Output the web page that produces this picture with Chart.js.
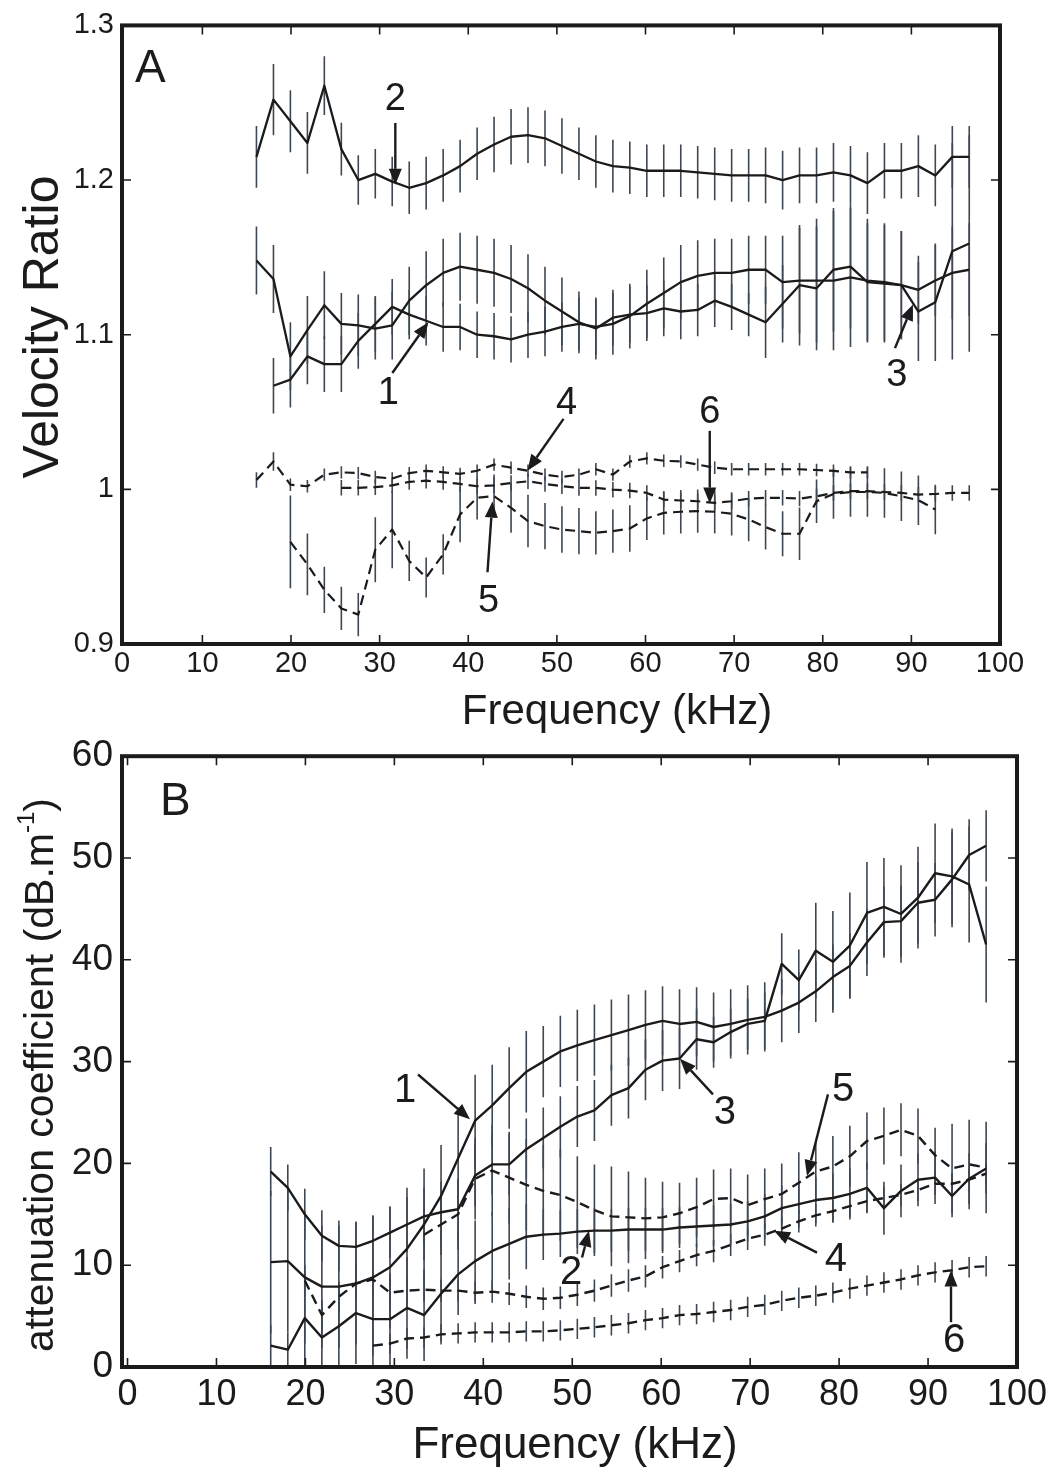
<!DOCTYPE html>
<html>
<head>
<meta charset="utf-8">
<script src="https://cdn.jsdelivr.net/npm/chart.js@4.4.1/dist/chart.umd.min.js"></script>
<style>
html,body{margin:0;padding:0;background:#fff;}
#wrap{position:relative;width:1054px;height:1472px;overflow:hidden;}
canvas{position:absolute;left:0;}
#cA{top:0;width:1054px;height:745px;}
#cB{top:725px;width:1054px;height:747px;}
</style>
</head>
<body>
<div id="wrap">
<canvas id="cA" width="1054" height="745"></canvas>
<canvas id="cB" width="1054" height="747"></canvas>
</div>
<script>
// ---------------- DATA ----------------
const freqs = [16.10, 18.02, 19.93, 21.85, 23.76, 25.68, 27.59, 29.51, 31.42, 33.34, 35.25, 37.17, 39.08, 41.00, 42.91, 44.83, 46.74, 48.66, 50.57, 52.49, 54.40, 56.32, 58.23, 60.15, 62.06, 63.98, 65.89, 67.81, 69.72, 71.64, 73.55, 75.47, 77.38, 79.30, 81.21, 83.13, 85.04, 86.96, 88.87, 90.79, 92.70, 94.62, 96.53];

const freqTickValues = [0, 10, 20, 30, 40, 50, 60, 70, 80, 90, 100];
const freqTickLabels = ['0', '10', '20', '30', '40', '50', '60', '70', '80', '90', '100'];
const velTickValues = [0.9, 1.0, 1.1, 1.2, 1.3];
const velTickLabels = ['0.9', '1', '1.1', '1.2', '1.3'];
const attTickValues = [0, 10, 20, 30, 40, 50, 60];
const attTickLabels = ['0', '10', '20', '30', '40', '50', '60'];
const seriesNames = ['1', '2', '3', '4', '5', '6'];

// Panel A : velocity ratio
const vel1 = [null, 1.067, 1.071, 1.086, 1.081, 1.081, 1.096, 1.107, 1.118, 1.113, 1.109, 1.105, 1.105, 1.100, 1.099, 1.097, 1.100, 1.102, 1.105, 1.107, 1.105, 1.107, 1.112, 1.120, 1.127, 1.134, 1.138, 1.140, 1.140, 1.142, 1.142, 1.134, 1.135, 1.135, 1.135, 1.137, 1.135, 1.134, 1.132, 1.129, 1.135, 1.140, 1.142];
const vel1Err = [null, 0.018, 0.018, 0.018, 0.018, 0.018, 0.018, 0.018, 0.018, 0.016, 0.016, 0.016, 0.015, 0.015, 0.015, 0.015, 0.015, 0.016, 0.016, 0.017, 0.018, 0.020, 0.021, 0.022, 0.023, 0.024, 0.023, 0.022, 0.022, 0.022, 0.022, 0.030, 0.034, 0.040, 0.045, 0.045, 0.040, 0.038, 0.035, 0.022, 0.023, 0.030, 0.030];
const vel2 = [1.215, 1.252, 1.238, 1.224, 1.261, 1.220, 1.200, 1.204, 1.199, 1.195, 1.198, 1.203, 1.209, 1.217, 1.223, 1.228, 1.229, 1.227, 1.222, 1.217, 1.212, 1.209, 1.208, 1.206, 1.206, 1.206, 1.205, 1.204, 1.203, 1.203, 1.203, 1.200, 1.203, 1.203, 1.205, 1.203, 1.198, 1.206, 1.206, 1.209, 1.203, 1.215, 1.215];
const vel2Err = [0.020, 0.023, 0.020, 0.020, 0.019, 0.017, 0.016, 0.016, 0.016, 0.017, 0.017, 0.017, 0.017, 0.017, 0.018, 0.018, 0.018, 0.018, 0.018, 0.017, 0.017, 0.017, 0.017, 0.017, 0.017, 0.017, 0.017, 0.017, 0.017, 0.017, 0.018, 0.019, 0.018, 0.018, 0.019, 0.019, 0.020, 0.018, 0.018, 0.020, 0.020, 0.020, 0.020];
const vel3 = [1.148, 1.136, 1.086, 1.103, 1.119, 1.107, 1.106, 1.104, 1.106, 1.122, 1.132, 1.140, 1.144, 1.142, 1.140, 1.136, 1.130, 1.122, 1.115, 1.108, 1.104, 1.111, 1.113, 1.114, 1.117, 1.115, 1.116, 1.122, 1.118, 1.113, 1.108, 1.120, 1.132, 1.130, 1.142, 1.144, 1.134, 1.133, 1.132, 1.115, 1.121, 1.154, 1.159];
const vel3Err = [0.022, 0.022, 0.022, 0.022, 0.022, 0.020, 0.020, 0.020, 0.022, 0.022, 0.022, 0.022, 0.022, 0.022, 0.022, 0.022, 0.022, 0.022, 0.022, 0.020, 0.020, 0.018, 0.018, 0.018, 0.018, 0.018, 0.017, 0.017, 0.015, 0.014, 0.023, 0.025, 0.039, 0.040, 0.040, 0.040, 0.038, 0.038, 0.035, 0.032, 0.038, 0.070, 0.070];
const vel4 = [1.006, 1.018, 1.003, 1.002, 1.0095, 1.011, 1.0105, 1.008, 1.007, 1.0105, 1.012, 1.011, 1.010, 1.012, 1.016, 1.014, 1.012, 1.0095, 1.008, 1.0095, 1.013, 1.0095, 1.018, 1.020, 1.0185, 1.018, 1.016, 1.014, 1.013, 1.013, 1.013, 1.013, 1.013, 1.0125, 1.012, 1.011, 1.011, null, null, null, null, null, null];
const vel4Err = [0.005, 0.006, 0.004, 0.004, 0.004, 0.004, 0.004, 0.004, 0.004, 0.004, 0.004, 0.004, 0.004, 0.004, 0.004, 0.004, 0.004, 0.004, 0.004, 0.004, 0.004, 0.004, 0.004, 0.004, 0.004, 0.004, 0.004, 0.004, 0.004, 0.004, 0.004, 0.004, 0.004, 0.004, 0.004, 0.004, 0.004, null, null, null, null, null, null];
const vel5 = [null, null, 0.966, 0.9515, 0.935, 0.923, 0.919, 0.961, 0.974, 0.9537, 0.943, 0.958, 0.9838, 0.9945, 0.9956, 0.988, 0.9795, 0.9762, 0.974, 0.973, 0.9719, 0.973, 0.9747, 0.9812, 0.9848, 0.9855, 0.9859, 0.9855, 0.9842, 0.9805, 0.9756, 0.9713, 0.9713, 0.9923, 0.997, 0.9983, 0.9983, 0.9977, 0.9955, 0.993, 0.987, null, null];
const vel5Err = [null, null, 0.030, 0.020, 0.015, 0.014, 0.014, 0.021, 0.025, 0.013, 0.013, 0.013, 0.018, 0.014, 0.014, 0.016, 0.017, 0.015, 0.015, 0.015, 0.014, 0.014, 0.015, 0.014, 0.014, 0.014, 0.014, 0.014, 0.014, 0.014, 0.0145, 0.0145, 0.017, 0.014, 0.016, 0.016, 0.016, 0.016, 0.016, 0.016, 0.016, null, null];
const vel6 = [null, null, null, null, null, 1.001, 1.001, 1.0014, 1.0026, 1.0048, 1.0056, 1.0048, 1.0035, 1.002, 1.0026, 1.0041, 1.0052, 1.0035, 1.002, 1.0009, 1.0009, 0.9998, 0.9992, 0.9977, 0.9934, 0.9928, 0.9923, 0.9913, 0.9923, 0.994, 0.9945, 0.9945, 0.994, 0.9955, 0.9977, 0.9988, 0.9988, 0.9983, 0.9977, 0.9966, 0.997, 0.9977, 0.9977];
const vel6Err = [null, null, null, null, null, 0.005, 0.005, 0.005, 0.005, 0.005, 0.005, 0.005, 0.005, 0.005, 0.005, 0.005, 0.005, 0.005, 0.005, 0.005, 0.005, 0.005, 0.005, 0.005, 0.005, 0.005, 0.005, 0.005, 0.005, 0.005, 0.005, 0.005, 0.005, 0.005, 0.005, 0.005, 0.005, 0.005, 0.005, 0.005, 0.005, 0.005, 0.005];

// Panel B : attenuation coefficient
const att1 = [10.3, 10.4, 8.8, 7.9, 7.9, 8.2, 8.8, 9.8, 11.6, 14.0, 16.8, 20.5, 24.2, 25.7, 27.4, 29.0, 30.0, 31.0, 31.6, 32.1, 32.6, 33.1, 33.6, 34.0, 33.7, 33.9, 33.4, 33.7, 34.1, 34.4, 35.0, 35.8, 36.9, 38.3, 39.4, 41.7, 43.7, 43.8, 45.6, 45.9, 47.9, 50.3, 51.2];
const att1Err = [7, 7, 6.5, 6, 6, 6, 6, 6, 6, 5.5, 5, 5, 4.5, 4, 4, 4, 3.5, 3.5, 3.5, 3.5, 3.5, 3.5, 3.4, 3.4, 3.4, 3.4, 3.4, 3.4, 3.4, 3.4, 3.1, 3, 3, 3.2, 3.2, 3.3, 3.5, 3.5, 4, 3.6, 4.7, 3.5, 3.5];
const att2 = [2.1, 1.7, 4.8, 2.9, 4.0, 5.3, 4.7, 4.7, 5.8, 5.1, 7.2, 9.1, 10.4, 11.4, 12.1, 12.8, 13.0, 13.1, 13.3, 13.4, 13.4, 13.5, 13.5, 13.5, 13.7, 13.8, 13.9, 14.0, 14.3, 14.8, 15.6, 16.0, 16.4, 16.6, 17.0, 17.6, 15.6, 17.3, 18.4, 18.6, 16.8, 18.5, 19.5];
const att2Err = [2.0, 1.7, 4.6, 2.9, 4.0, 5.0, 4.7, 4.5, 5.0, 4.5, 4.7, 4.0, 4.0, 3.8, 3.5, 3.2, 2.5, 2.3, 2.2, 2.2, 2.1, 2.1, 2.1, 2.1, 2, 2, 2, 2, 2, 2.2, 2.2, 2.3, 2.3, 2.4, 2.5, 2.5, 2.6, 2.6, 2.6, 2.6, 2.1, 2.5, 2.5];
const att3 = [19.2, 17.6, 15.0, 12.9, 11.9, 11.8, 12.4, 13.2, 14.0, 14.8, 15.2, 15.5, 18.8, 19.9, 19.9, 21.4, 22.5, 23.6, 24.6, 25.2, 26.7, 27.4, 29.2, 30.1, 30.3, 32.2, 31.9, 32.9, 33.7, 34.0, 39.6, 38.0, 40.9, 39.8, 41.4, 44.6, 45.2, 44.5, 46.1, 48.5, 48.2, 47.4, 41.5];
const att3Err = [2.4, 2.3, 2.5, 2.5, 2.5, 2.5, 2.5, 2.5, 2.7, 2.8, 3, 3, 3, 3, 3, 3, 3, 3, 3, 3, 3, 3, 3, 3, 3, 3, 2.5, 2.3, 2.5, 2.8, 3, 3, 4.7, 5, 5.2, 5, 4.8, 4.8, 5, 4.9, 4.7, 5.7, 5.7];
const att4 = [null, null, 8.5, 5.1, 6.9, 8.2, 8.6, 7.3, 7.5, 7.6, 7.5, 7.5, 7.3, 7.4, 7.2, 6.9, 6.7, 6.8, 7.1, 7.5, 8.0, 8.5, 8.9, 9.8, 10.4, 11.0, 11.4, 12.0, 12.6, 13.0, 13.6, 14.3, 14.9, 15.3, 15.8, 16.3, 16.6, 16.9, 17.4, 18.0, 18.0, 18.4, 19.0];
const att4Err = [null, null, 1.5, 1.5, 1.5, 1.5, 1.5, 1.3, 1.2, 1.2, 1.1, 1.1, 1.1, 1.1, 1.1, 1.1, 1.1, 1.1, 1.1, 1.1, 1.1, 1.1, 1.1, 1.1, 1.1, 1.1, 1.1, 1.1, 1.1, 1.1, 1.1, 1.1, 1.1, 1.1, 1.1, 1.1, 1.1, 1.1, 1.1, 1.1, 1.1, 1.1, 1.1];
const att5 = [null, null, null, null, null, null, null, null, null, 13.0, 14.0, 15.0, 18.5, 19.3, 18.6, 17.9, 17.3, 16.9, 16.2, 15.4, 14.8, 14.7, 14.6, 14.7, 15.1, 15.7, 16.5, 16.6, 15.9, 16.5, 17.0, 18.1, 19.2, 19.7, 20.7, 22.2, 22.7, 23.3, 22.7, 20.8, 19.5, 19.9, 19.6];
const att5Err = [null, null, null, null, null, null, null, null, null, 2.5, 3.0, 3.5, 4.0, 4.5, 4.5, 4.5, 4.5, 4.5, 4.5, 4.5, 4.9, 4.5, 4.0, 3.5, 3.0, 2.9, 2.9, 2.9, 3.0, 3.0, 3.0, 3.0, 3.0, 3.0, 3.0, 2.8, 2.8, 2.6, 2.7, 2.7, 4.4, 4.4, 4.5];
const att6 = [null, null, null, null, null, null, 2.1, 2.3, 2.8, 2.9, 3.2, 3.3, 3.4, 3.4, 3.4, 3.5, 3.5, 3.6, 3.75, 3.9, 4.1, 4.3, 4.6, 4.8, 5.1, 5.2, 5.4, 5.6, 5.9, 6.1, 6.5, 6.8, 7.0, 7.3, 7.7, 8.0, 8.3, 8.6, 9.0, 9.3, 9.5, 9.8, 9.9];
const att6Err = [null, null, null, null, null, null, 1.0, 1.0, 1.0, 1.0, 1.0, 1.0, 1.0, 1.0, 1.0, 1.0, 1.0, 1.0, 1.0, 1.0, 1.0, 1.0, 1.0, 1.0, 1.0, 1.0, 1.0, 1.0, 1.0, 1.0, 1.0, 1.0, 1.0, 1.0, 1.0, 1.0, 1.0, 1.0, 1.0, 1.0, 1.0, 1.0, 1.0];

// ---------------- STYLE / LAYOUT ----------------
const FONT = "'Liberation Sans', Arial, Helvetica, sans-serif";
const INK = '#1b1b1b';
const BAR = '#3d4852';

// annotations in data coordinates (x = kHz, y = axis value)
const annot = {
  cA: {
    tickLen: 9, frame: 4,
    labelFont: '38px ' + FONT,
    labels: [
      {t: '2', x: 31.77, y: 1.2523}, {t: '1', x: 30.98, y: 1.0617}, {t: '3', x: 88.37, y: 1.0739},
      {t: '4', x: 51.09, y: 1.0552}, {t: '6', x: 67.25, y: 1.0494}, {t: '5', x: 42.28, y: 0.9277}
    ],
    arrows: [
      [31.77, 1.2369, 31.77, 1.1969], [31.43, 1.0752, 35.50, 1.1081], [88.15, 1.0913, 90.18, 1.1196],
      [50.75, 1.0456, 46.68, 1.0121], [67.25, 1.0378, 67.25, 0.9908], [42.17, 0.9464, 42.73, 0.9921]
    ],
    panel: {t: 'A', x: 2.40, y: 1.2633, font: '46px ' + FONT},
    xTitle: {t: 'Frequency (kHz)', px: 617, py: 712, font: '42px ' + FONT},
    yTitle: {parts: [['Velocity Ratio', false]], px: 44, py: 327, font: '50px ' + FONT, sup: '28px ' + FONT}
  },
  cB: {
    tickLen: 9, frame: 4,
    labelFont: '40px ' + FONT,
    labels: [
      {t: '1', x: 31.20, y: 27.07}, {t: '3', x: 67.17, y: 24.92}, {t: '5', x: 80.44, y: 27.26},
      {t: '2', x: 49.86, y: 9.28}, {t: '4', x: 79.65, y: 10.55}, {t: '6', x: 92.92, y: 2.54}
    ],
    arrows: [
      [32.66, 28.73, 38.50, 24.33], [65.82, 26.78, 62.11, 30.29], [78.75, 26.78, 76.39, 18.76],
      [51.10, 10.75, 51.88, 13.39], [77.52, 11.24, 72.68, 13.39], [92.58, 4.40, 92.58, 9.48]
    ],
    panel: {t: 'B', x: 3.65, y: 54.24, font: '46px ' + FONT},
    xTitle: {t: 'Frequency (kHz)', px: 575, py: 721, font: '44px ' + FONT},
    yTitle: {parts: [['attenuation coefficient (dB.m', false], ['-1', true], [')', false]], px: 42, py: 350, font: '41px ' + FONT, sup: '24px ' + FONT}
  }
};

function drawArrow(ctx, x1, y1, x2, y2) {
  const head = 16, w = 6.5;
  const ang = Math.atan2(y2 - y1, x2 - x1);
  const bx = x2 - head * Math.cos(ang), by = y2 - head * Math.sin(ang);
  ctx.beginPath(); ctx.moveTo(x1, y1); ctx.lineTo(bx, by); ctx.stroke();
  ctx.beginPath();
  ctx.moveTo(x2, y2);
  ctx.lineTo(bx + w * Math.sin(ang), by - w * Math.cos(ang));
  ctx.lineTo(bx - w * Math.sin(ang), by + w * Math.cos(ang));
  ctx.closePath(); ctx.fill();
}

const figPlugin = {
  id: 'fig',
  beforeDatasetsDraw(chart) {
    const {ctx, chartArea: a, scales: {x, y}} = chart;
    ctx.save();
    ctx.beginPath(); ctx.rect(a.left, a.top, a.right - a.left, a.bottom - a.top); ctx.clip();
    ctx.strokeStyle = BAR; ctx.lineWidth = 1.6;
    chart.data.datasets.forEach(ds => {
      const errs = ds.errs;
      if (!errs) return;
      ds.data.forEach((p, i) => {
        const e = errs[i];
        if (p.y === null || e === null || e === undefined) return;
        const px = x.getPixelForValue(p.x);
        ctx.beginPath();
        ctx.moveTo(px, y.getPixelForValue(p.y + e));
        ctx.lineTo(px, y.getPixelForValue(p.y - e));
        ctx.stroke();
      });
    });
    ctx.restore();
  },
  afterDatasetsDraw(chart) {
    const o = annot[chart.canvas.id];
    const {ctx, chartArea: a, scales: {x, y}} = chart;
    ctx.save();
    ctx.strokeStyle = INK; ctx.fillStyle = INK; ctx.lineWidth = 1.6;
    // inward tick marks on all four sides
    x.ticks.forEach(t => {
      const px = x.getPixelForValue(t.value);
      if (px < a.left + 3 || px > a.right - 3) return;
      ctx.beginPath();
      ctx.moveTo(px, a.bottom); ctx.lineTo(px, a.bottom - o.tickLen);
      ctx.moveTo(px, a.top); ctx.lineTo(px, a.top + o.tickLen);
      ctx.stroke();
    });
    y.ticks.forEach(t => {
      const py = y.getPixelForValue(t.value);
      if (py < a.top + 3 || py > a.bottom - 3) return;
      ctx.beginPath();
      ctx.moveTo(a.left, py); ctx.lineTo(a.left + o.tickLen, py);
      ctx.moveTo(a.right, py); ctx.lineTo(a.right - o.tickLen, py);
      ctx.stroke();
    });
    // frame
    ctx.lineWidth = o.frame;
    ctx.strokeRect(a.left, a.top, a.right - a.left, a.bottom - a.top);
    // arrows
    ctx.lineWidth = 2.4;
    o.arrows.forEach(r => drawArrow(ctx, x.getPixelForValue(r[0]), y.getPixelForValue(r[1]), x.getPixelForValue(r[2]), y.getPixelForValue(r[3])));
    // curve number labels
    ctx.font = o.labelFont; ctx.textAlign = 'center'; ctx.textBaseline = 'middle';
    o.labels.forEach(l => ctx.fillText(l.t, x.getPixelForValue(l.x), y.getPixelForValue(l.y)));
    // panel letter
    ctx.font = o.panel.font; ctx.textAlign = 'left'; ctx.textBaseline = 'alphabetic';
    ctx.fillText(o.panel.t, x.getPixelForValue(o.panel.x), y.getPixelForValue(o.panel.y));
    // x axis title
    ctx.font = o.xTitle.font; ctx.textAlign = 'center'; ctx.textBaseline = 'middle';
    ctx.fillText(o.xTitle.t, o.xTitle.px, o.xTitle.py);
    // y axis title (rotated, optional superscript part)
    ctx.translate(o.yTitle.px, o.yTitle.py);
    ctx.rotate(-Math.PI / 2);
    ctx.textAlign = 'left'; ctx.textBaseline = 'middle';
    let total = 0;
    const widths = o.yTitle.parts.map(p => { ctx.font = p[1] ? o.yTitle.sup : o.yTitle.font; const w = ctx.measureText(p[0]).width; total += w; return w; });
    let cx = -total / 2;
    o.yTitle.parts.forEach((p, i) => {
      ctx.font = p[1] ? o.yTitle.sup : o.yTitle.font;
      ctx.fillText(p[0], cx, p[1] ? -15 : 0);
      cx += widths[i];
    });
    ctx.restore();
  }
};

function pts(vals) { return freqs.map((f, i) => ({x: f, y: vals[i]})); }
function series(name, vals, errs, dashed, width) {
  return {
    label: name, data: pts(vals), errs: errs,
    borderColor: INK, backgroundColor: INK, borderWidth: width,
    borderDash: dashed ? [10, 6] : [], borderJoinStyle: 'round',
    pointRadius: 0, pointHoverRadius: 0, fill: false, tension: 0, spanGaps: false
  };
}

function xScale(min, size, pad, height) {
  return {
    type: 'linear', min: min, max: 100,
    afterBuildTicks: s => { s.ticks = freqTickValues.map(v => ({value: Math.max(v, min)})); },
    ticks: {autoSkip: false, maxRotation: 0, minRotation: 0, padding: pad, color: INK,
      font: {family: FONT, size: size}, callback: (v, i) => freqTickLabels[i]},
    grid: {display: false, drawTicks: false}, border: {display: false},
    afterFit: s => { s.height = height; }
  };
}
function yScale(min, max, vals, labels, size, pad) {
  return {
    type: 'linear', min: min, max: max,
    afterBuildTicks: s => { s.ticks = vals.map(v => ({value: v})); },
    ticks: {autoSkip: false, padding: pad, color: INK, font: {family: FONT, size: size},
      callback: (v, i) => labels[i]},
    grid: {display: false, drawTicks: false}, border: {display: false},
    afterFit: s => { s.width = 122; }
  };
}

const common = {
  responsive: false, animation: false, devicePixelRatio: 1, events: [],
  plugins: {legend: {display: false}, tooltip: {enabled: false}, title: {display: false}}
};

new Chart(document.getElementById('cA'), {
  type: 'line',
  data: {datasets: [
    series(seriesNames[1], vel2, vel2Err, false, 2.3),
    series(seriesNames[0], vel1, vel1Err, false, 2.3),
    series(seriesNames[2], vel3, vel3Err, false, 2.3),
    series(seriesNames[3], vel4, vel4Err, true, 2.2),
    series(seriesNames[4], vel5, vel5Err, true, 2.2),
    series(seriesNames[5], vel6, vel6Err, true, 2.2)
  ]},
  options: Object.assign({}, common, {
    layout: {padding: {left: 0, top: 23, right: 54, bottom: 0}},
    scales: {
      x: xScale(0.93, 29, 3, 101),
      y: yScale(0.9, 1.3, velTickValues, velTickLabels, 29, 8)
    }
  }),
  plugins: [figPlugin]
});

new Chart(document.getElementById('cB'), {
  type: 'line',
  data: {datasets: [
    series(seriesNames[0], att1, att1Err, false, 2.4),
    series(seriesNames[1], att2, att2Err, false, 2.4),
    series(seriesNames[2], att3, att3Err, false, 2.4),
    series(seriesNames[3], att4, att4Err, true, 2.4),
    series(seriesNames[4], att5, att5Err, true, 2.4),
    series(seriesNames[5], att6, att6Err, true, 2.4)
  ]},
  options: Object.assign({}, common, {
    layout: {padding: {left: 0, top: 28, right: 37, bottom: 0}},
    scales: {
      x: xScale(-0.62, 36, 6, 105),
      y: yScale(0, 60, attTickValues, attTickLabels, 37, 9)
    }
  }),
  plugins: [figPlugin]
});
</script>
</body>
</html>
